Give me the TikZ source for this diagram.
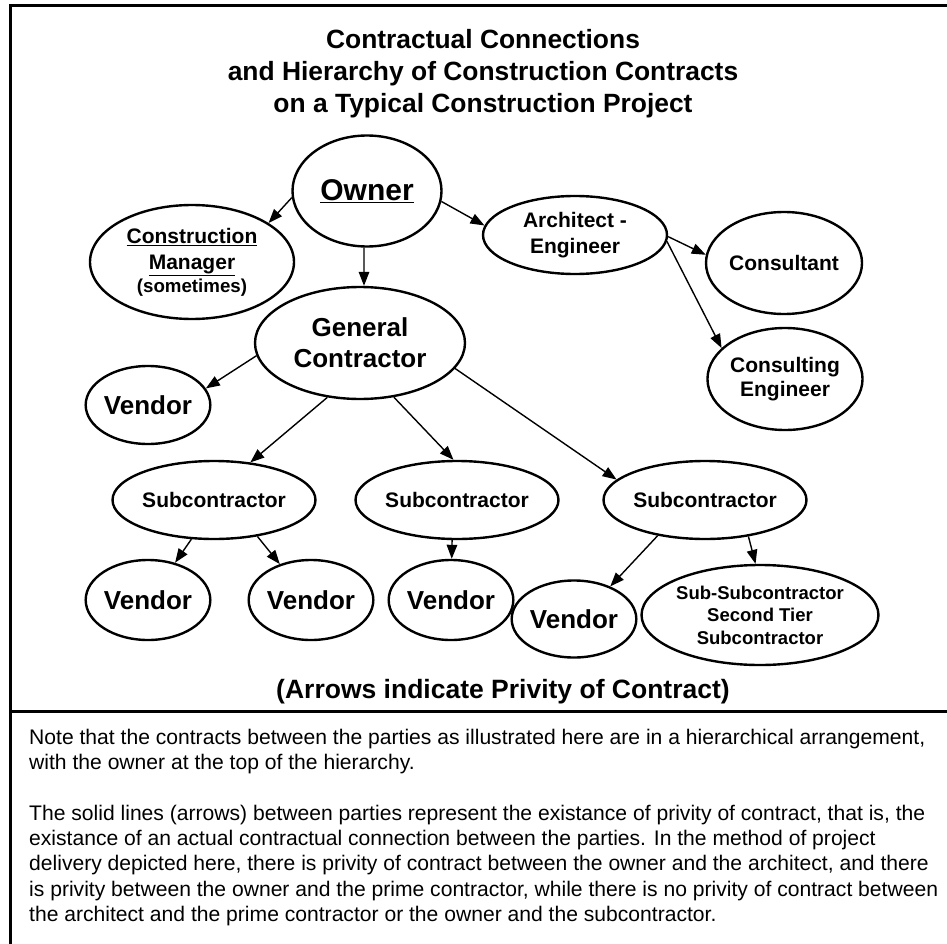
\documentclass[tikz,border=0pt]{standalone}
\usepackage{fontspec}
\setmainfont{Liberation Sans}
\usetikzlibrary{arrows.meta, positioning, shapes.geometric}

\begin{document}
\begin{tikzpicture}[
    x=1pt, y=-1pt,
    >={Triangle[length=14pt, width=10.5pt]},
    party/.style={ellipse, draw, line width=2.4pt, inner sep=0pt, align=center},
    esize/.style 2 args={minimum width=#1pt, minimum height=#2pt},
    conn/.style={->, line width=1.4pt},
    namebig/.style={font=\bfseries\fontsize{26}{31}\selectfont},
    namemid/.style={font=\bfseries\fontsize{21}{25.5}\selectfont},
    namesml/.style={font=\bfseries\fontsize{18.5}{22.5}\selectfont},
]
\useasboundingbox (0,0) rectangle (947,944);
\draw[line width=3pt] (947,5.5) -- (10.5,5.5) -- (10.5,944);
\draw[line width=3pt] (10.5,711.5) -- (947,711.5);

\node[align=center, font=\bfseries\fontsize{26.4}{32}\selectfont] (title) at (483,74)
      {Contractual Connections\\and Hierarchy of Construction Contracts\\on a Typical Construction Project};

\node[party, esize={149}{111}, font=\bfseries\fontsize{30}{34}\selectfont] (owner) at (367,191) {\underline{Owner}};
\node[party, esize={204}{114}, namemid] (cm) at (192,262)
      {\underline{Construction}\\[1pt]\underline{Manager}\\[-3pt]{\fontsize{18.7}{22}\selectfont(sometimes)}};
\node[party, esize={184}{78}, namemid] (arch) at (575,235) {Architect -\\Engineer};
\node[party, esize={156}{102}, namemid] (cons) at (784,263) {Consultant};
\node[party, esize={210}{112}, namebig] (gc) at (360,343) {General\\Contractor};
\node[party, esize={154}{102}, font=\bfseries\fontsize{21}{24}\selectfont] (ceng) at (785,379) {Consulting\\Engineer};
\node[party, esize={118}{78}, namebig] (vgc) at (148,405) {Vendor};

\node[party, esize={196}{78}, namemid] (sub1) at (214,500) {Subcontractor};
\node[party, esize={194}{78}, namemid] (sub2) at (457,500) {Subcontractor};
\node[party, esize={196}{78}, namemid] (sub3) at (705,500) {Subcontractor};

\node[party, esize={118}{80}, namebig] (v1) at (148,600) {Vendor};
\node[party, esize={118}{80}, namebig] (v2) at (311,600) {Vendor};
\node[party, esize={118}{80}, namebig] (v3) at (451,600) {Vendor};
\node[party, esize={118}{77}, namebig] (v4) at (574,619) {Vendor};
\node[party, esize={230}{100}, namesml] (ssub) at (760,615)
      {Sub-Subcontractor\\Second Tier\\Subcontractor};

\draw[conn] (owner.185) -- (cm.27);
\draw[conn] (owner.267) -- (gc.86);
\draw[conn] (owner.-8) -- (arch.174);
\draw[conn] (arch.-1) -- (cons.174);
\draw[conn] (arch.-4) -- (ceng.154);
\draw[conn] (gc.187) -- (vgc.16);
\draw[conn] (gc.239) -- (sub1.46);
\draw[conn] (gc.-58) -- (sub2.95);
\draw[conn] (gc.-15) -- (sub3.167);
\draw[conn] (sub1.240) -- (v1.54);
\draw[conn] (sub1.-40) -- (v2.131);
\draw[conn] (sub2.263) -- (v3.89);
\draw[conn] (sub3.217) -- (v4.42);
\draw[conn] (sub3.-40) -- (ssub.95);

\node[font=\bfseries\fontsize{26.5}{31}\selectfont] (privity) at (503,692) {(Arrows indicate Privity of Contract)};

\node[anchor=north west, inner sep=0pt, align=left, font=\fontsize{21.1}{25.3}\selectfont] (notes) at (29,729)
      {Note that the contracts between the parties as illustrated here are in a hierarchical arrangement,\\
       with the owner at the top of the hierarchy.\\[25.3pt]
       The solid lines (arrows) between parties represent the existance of privity of contract, that is, the\\
       existance of an actual contractual connection between the parties. In the method of project\\
       delivery depicted here, there is privity of contract between the owner and the architect, and there\\
       is privity between the owner and the prime contractor, while there is no privity of contract between\\
       the architect and the prime contractor or the owner and the subcontractor.};
\end{tikzpicture}
\end{document}
